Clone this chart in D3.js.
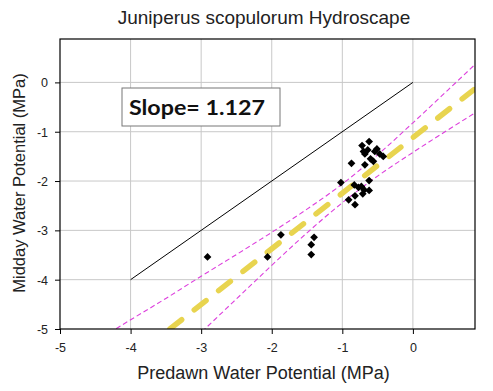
<!DOCTYPE html>
<html><head><meta charset="utf-8">
<script src="https://cdn.jsdelivr.net/npm/d3@7"></script>
<style>body{margin:0;background:#fff}svg{display:block}</style>
</head><body>
<svg id="c" width="493" height="391"></svg>
<script>
const predawn = [-0.62,-0.72,-0.51,-0.64,-0.68,-0.54,-0.47,-0.42,-0.56,-0.68,-0.87,-0.60,-0.70,
  -1.02,-0.62,-0.83,-0.77,-0.73,-0.69,-0.62,-0.71,-0.82,-0.91,-0.82,
  -1.87,-2.06,-2.91,-1.40,-1.44,-1.44];
const midday = [-1.20,-1.28,-1.35,-1.37,-1.45,-1.40,-1.45,-1.50,-1.60,-1.67,-1.64,-1.55,-1.40,
  -2.03,-1.99,-2.08,-2.13,-2.11,-2.18,-2.19,-2.26,-2.30,-2.38,-2.48,
  -3.09,-3.54,-3.54,-3.14,-3.29,-3.49];
const slope = 1.127, intercept = -1.12;
const bandX = [-4.3,-4.2,-3.5,-3.0,-2.5,-2.0,-1.5,-1.0,-0.5,0.0,0.5,0.9];
const bandUpper = [-5.08,-4.99,-4.38,-3.93,-3.49,-3.04,-2.57,-2.06,-1.47,-0.82,-0.15,0.39];
const bandLower = [-6.85,-6.71,-5.75,-5.07,-4.39,-3.71,-3.05,-2.44,-1.90,-1.42,-0.96,-0.60];
const oneToOne = [[-4,-4],[0,0]];
const xTicks = [-5,-4,-3,-2,-1,0];
const yTicks = [-5,-4,-3,-2,-1,0];
const title = "Juniperus scopulorum Hydroscape";
const xTitle = "Predawn Water Potential (MPa)";
const yTitle = "Midday Water Potential (MPa)";
const slopeLabel = "Slope= 1.127";

const svg = d3.select("#c");
const L=60,R=475,T=39,B=329;
const x = d3.scaleLinear().domain([-5,0.88]).range([L,R]);
const y = d3.scaleLinear().domain([-5,0.88]).range([B,T]);

svg.append("defs").append("clipPath").attr("id","clip")
  .append("rect").attr("x",L).attr("y",T).attr("width",R-L).attr("height",B-T);

// grid
const g = svg.append("g");
g.selectAll(".gx").data(xTicks.slice(1)).join("line")
  .attr("x1",d=>x(d)).attr("x2",d=>x(d)).attr("y1",T).attr("y2",B)
  .attr("stroke","#c8c8c8").attr("stroke-width",1);
g.selectAll(".gy").data(yTicks.slice(1)).join("line")
  .attr("y1",d=>y(d)).attr("y2",d=>y(d)).attr("x1",L).attr("x2",R)
  .attr("stroke","#c8c8c8").attr("stroke-width",1);

const plot = svg.append("g").attr("clip-path","url(#clip)");
const line = d3.line().x(d=>x(d[0])).y(d=>y(d[1]));

// 1:1
plot.append("path").attr("d",line(oneToOne)).attr("fill","none").attr("stroke","#000").attr("stroke-width",1);

// bands
const curve = d3.line().x(d=>x(d[0])).y(d=>y(d[1])).curve(d3.curveMonotoneX);
[bandUpper,bandLower].forEach(arr=>{
  plot.append("path").attr("d",curve(bandX.map((v,i)=>[v,arr[i]])))
    .attr("fill","none").attr("stroke","#dd3fdd").attr("stroke-width",1.1)
    .attr("stroke-dasharray","5,3");
});

// regression
const x0 = (-5 - intercept)/slope, x1 = 0.88;
plot.append("path").attr("d",line([[x0,slope*x0+intercept],[x1,slope*x1+intercept]]))
  .attr("fill","none").attr("stroke","#e8d44f").attr("stroke-width",5.5)
  .attr("stroke-linecap","round").attr("stroke-dasharray","15,16");

// points
const sym = d3.symbol().type(d3.symbolSquare).size(30);
svg.append("g").selectAll("path").data(predawn.map((v,i)=>[v,midday[i]])).join("path")
  .attr("d",sym).attr("transform",d=>`translate(${x(d[0])},${y(d[1])}) rotate(45)`)
  .attr("fill","#000");

// frame
svg.append("rect").attr("x",L).attr("y",T).attr("width",R-L).attr("height",B-T)
  .attr("fill","none").attr("stroke","#000").attr("stroke-width",1.2);

// axes
const xa = svg.append("g").attr("transform",`translate(0,${B})`)
  .call(d3.axisBottom(x).tickValues(xTicks).tickSize(5).tickFormat(d3.format("d")));
const ya = svg.append("g").attr("transform",`translate(${L},0)`)
  .call(d3.axisLeft(y).tickValues(yTicks).tickSize(5).tickFormat(d3.format("d")));
[xa,ya].forEach(a=>{
  a.select(".domain").remove();
  a.selectAll("line").attr("stroke","#000");
  a.selectAll("text").attr("font-family","Liberation Sans, Arial").attr("font-size",12.5).attr("fill","#222");
});
xa.selectAll("text").attr("dy",null).attr("y",23);
ya.selectAll("text").attr("x",-12).attr("dy","0.35em");
xa.selectAll("text").text(d=>d3.format("d")(d).replace("−","-"));
ya.selectAll("text").text(d=>d3.format("d")(d).replace("−","-"));

// slope box
svg.append("rect").attr("x",122).attr("y",88).attr("width",158).attr("height",38)
  .attr("fill","#fff").attr("stroke","#777").attr("stroke-width",1);
svg.append("text").attr("x",129).attr("y",115).text(slopeLabel)
  .attr("font-family","Lato, DejaVu Sans").attr("font-weight","bold").attr("font-size",21)
  .attr("textLength",136).attr("lengthAdjust","spacingAndGlyphs").attr("fill","#111");

// titles
svg.append("text").attr("x",264).attr("y",24).attr("text-anchor","middle").text(title)
  .attr("font-family","Liberation Sans, Arial").attr("font-size",19).attr("fill","#222");
svg.append("text").attr("x",263.5).attr("y",379).attr("text-anchor","middle").text(xTitle)
  .attr("font-family","Liberation Sans, Arial").attr("font-size",18).attr("fill","#222");
svg.append("text").attr("transform","translate(25,183) rotate(-90)").attr("text-anchor","middle").text(yTitle)
  .attr("font-family","Liberation Sans, Arial").attr("font-size",16.5).attr("fill","#222");
</script>
</body></html>
